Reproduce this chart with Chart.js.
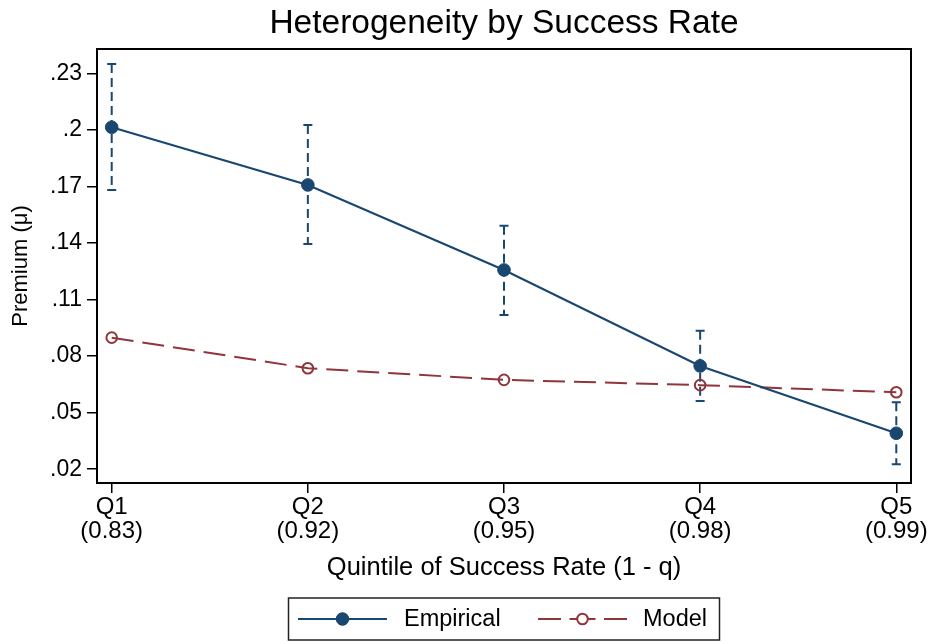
<!DOCTYPE html>
<html><head><meta charset="utf-8">
<script src="https://cdn.jsdelivr.net/npm/chart.js@4/dist/chart.umd.min.js"></script>
<style>html,body{margin:0;padding:0;background:#fff;} canvas{display:block;}</style>
</head><body>
<canvas id="c" width="932" height="644"></canvas>
<script>
// ---- data ----
const categories = ['Q1', 'Q2', 'Q3', 'Q4', 'Q5'];
const successRates = ['(0.83)', '(0.92)', '(0.95)', '(0.98)', '(0.99)'];
const empirical = [0.2014, 0.1708, 0.1257, 0.0748, 0.0391];
const empiricalUpper = [0.2349, 0.2026, 0.1492, 0.0935, 0.0555];
const empiricalLower = [0.1681, 0.1395, 0.1018, 0.0562, 0.0226];
const model = [0.0898, 0.0736, 0.0674, 0.0646, 0.0608];
const yTickValues = [0.02, 0.05, 0.08, 0.11, 0.14, 0.17, 0.20, 0.23];
const yTickLabels = ['.02', '.05', '.08', '.11', '.14', '.17', '.2', '.23'];
const seriesNames = ['Empirical', 'Model'];
const chartTitle = 'Heterogeneity by Success Rate';
const xTitle = 'Quintile of Success Rate (1 - q)';
const yTitle = 'Premium (\u03bc)';

// ---- styling ----
const FONT = "'Liberation Sans', Arial, Helvetica, sans-serif";
const NAVY = '#1a476f';
const MAROON = '#90353b';
const X_MIN = -0.075, X_MAX = 4.075;
const Y_MIN = 0.0127, Y_MAX = 0.2429;

const errorBars = {
  id: 'errorBars',
  beforeDatasetsDraw(chart) {
    const ctx = chart.ctx, xs = chart.scales.x, ys = chart.scales.y;
    ctx.save();
    ctx.strokeStyle = NAVY;
    ctx.lineWidth = 2;
    empirical.forEach((v, i) => {
      const x = xs.getPixelForValue(i);
      const yt = ys.getPixelForValue(empiricalUpper[i]);
      const yb = ys.getPixelForValue(empiricalLower[i]);
      ctx.setLineDash([9, 5]);
      ctx.beginPath(); ctx.moveTo(x, yt); ctx.lineTo(x, yb); ctx.stroke();
      ctx.setLineDash([]);
      ctx.beginPath();
      ctx.moveTo(x - 4.5, yt); ctx.lineTo(x + 4.5, yt);
      ctx.moveTo(x - 4.5, yb); ctx.lineTo(x + 4.5, yb);
      ctx.stroke();
    });
    ctx.restore();
  }
};

const frame = {
  id: 'frame',
  beforeDatasetsDraw(chart) {
    const {left, top, right, bottom} = chart.chartArea;
    const ctx = chart.ctx;
    ctx.save();
    ctx.strokeStyle = '#000';
    ctx.lineWidth = 2;
    ctx.strokeRect(left, top, right - left, bottom - top);
    ctx.restore();
  }
};

const boxLegend = {
  id: 'boxLegend',
  afterDraw(chart) {
    const ctx = chart.ctx;
    const bx = 288.5, by = 598, bw = 431, bh = 42;
    const cy = by + bh / 2;
    ctx.save();
    ctx.strokeStyle = '#222';
    ctx.lineWidth = 1.5;
    ctx.strokeRect(bx, by, bw, bh);
    const ds = chart.data.datasets;
    const items = [
      {x0: 298, x1: 387, tx: 404, d: ds[0]},
      {x0: 538, x1: 627, tx: 643, d: ds[1]}
    ];
    items.forEach(it => {
      const d = it.d;
      ctx.strokeStyle = d.borderColor;
      ctx.lineWidth = d.borderWidth;
      const cx = (it.x0 + it.x1) / 2;
      ctx.setLineDash([]);
      ctx.beginPath();
      if (d.borderDash && d.borderDash.length) {
        ctx.moveTo(it.x0, cy); ctx.lineTo(it.x0 + 23, cy);
        ctx.moveTo(cx - 13, cy); ctx.lineTo(cx + 13, cy);
        ctx.moveTo(it.x1 - 23, cy); ctx.lineTo(it.x1, cy);
      } else {
        ctx.moveTo(it.x0, cy); ctx.lineTo(it.x1, cy);
      }
      ctx.stroke();
      ctx.beginPath();
      ctx.arc(cx, cy, d.pointRadius, 0, Math.PI * 2);
      ctx.fillStyle = (d.pointBackgroundColor === 'rgba(0,0,0,0)') ? '#fff' : d.pointBackgroundColor;
      ctx.fill();
      ctx.lineWidth = d.pointBorderWidth;
      ctx.strokeStyle = d.pointBorderColor;
      ctx.stroke();
      ctx.fillStyle = '#000';
      ctx.font = '23.5px ' + FONT;
      ctx.textBaseline = 'middle';
      ctx.textAlign = 'left';
      ctx.fillText(d.label, it.tx, cy + 1);
    });
    ctx.restore();
  }
};

new Chart(document.getElementById('c'), {
  type: 'line',
  data: {
    datasets: [
      {
        label: seriesNames[0],
        data: empirical.map((v, i) => ({x: i, y: v})),
        borderColor: NAVY, borderWidth: 2.2,
        pointRadius: 6.3, pointBorderWidth: 1,
        pointBackgroundColor: NAVY, pointBorderColor: NAVY,
        tension: 0, order: 1
      },
      {
        label: seriesNames[1],
        data: model.map((v, i) => ({x: i, y: v})),
        borderColor: MAROON, borderWidth: 2,
        borderDash: [22, 9],
        pointRadius: 5.3, pointBorderWidth: 2,
        pointBackgroundColor: 'rgba(0,0,0,0)', pointBorderColor: MAROON,
        tension: 0, order: 2
      }
    ]
  },
  options: {
    responsive: false,
    devicePixelRatio: 1,
    animation: false,
    layout: {padding: {left: 0, right: 21, top: 0, bottom: 54}},
    plugins: {legend: {display: false}, tooltip: {enabled: false}, title: {display: false}},
    scales: {
      x: {
        type: 'linear', position: 'bottom', min: X_MIN, max: X_MAX,
        afterBuildTicks: s => { s.ticks = categories.map((c, i) => ({value: i})); },
        afterFit: s => { s.height = 107; },
        ticks: {
          callback: (v, i) => [categories[i], successRates[i]],
          color: '#000', padding: 3, maxRotation: 0, autoSkip: false,
          font: {family: FONT, size: 24, lineHeight: 0.98}
        },
        grid: {drawOnChartArea: false, drawTicks: true, tickLength: 10, color: '#000', lineWidth: 1.5},
        border: {display: false},
        title: {display: true, text: xTitle, color: '#000', padding: {top: 0, bottom: 7},
                font: {family: FONT, size: 25.5, lineHeight: 1.2}}
      },
      xTop: {
        type: 'linear', position: 'top', min: X_MIN, max: X_MAX,
        afterFit: s => { s.height = 49; },
        ticks: {display: false},
        grid: {display: false},
        border: {display: false},
        title: {display: true, text: chartTitle, color: '#000', padding: {top: 7, bottom: 0},
                font: {family: FONT, size: 33.5, lineHeight: 1}}
      },
      y: {
        type: 'linear', position: 'left', min: Y_MIN, max: Y_MAX,
        afterBuildTicks: s => { s.ticks = yTickValues.map(v => ({value: v})); },
        afterFit: s => { s.width = 97; },
        ticks: {
          callback: (v, i) => yTickLabels[i],
          color: '#000', padding: 5, autoSkip: false,
          font: {family: FONT, size: 23}
        },
        grid: {drawOnChartArea: false, drawTicks: true, tickLength: 10, color: '#000', lineWidth: 1.5},
        border: {display: false},
        title: {display: true, text: yTitle, color: '#000', padding: {top: 8, bottom: 0},
                font: {family: FONT, size: 22, lineHeight: 1.2}}
      }
    }
  },
  plugins: [frame, errorBars, boxLegend]
});
</script>
</body></html>
